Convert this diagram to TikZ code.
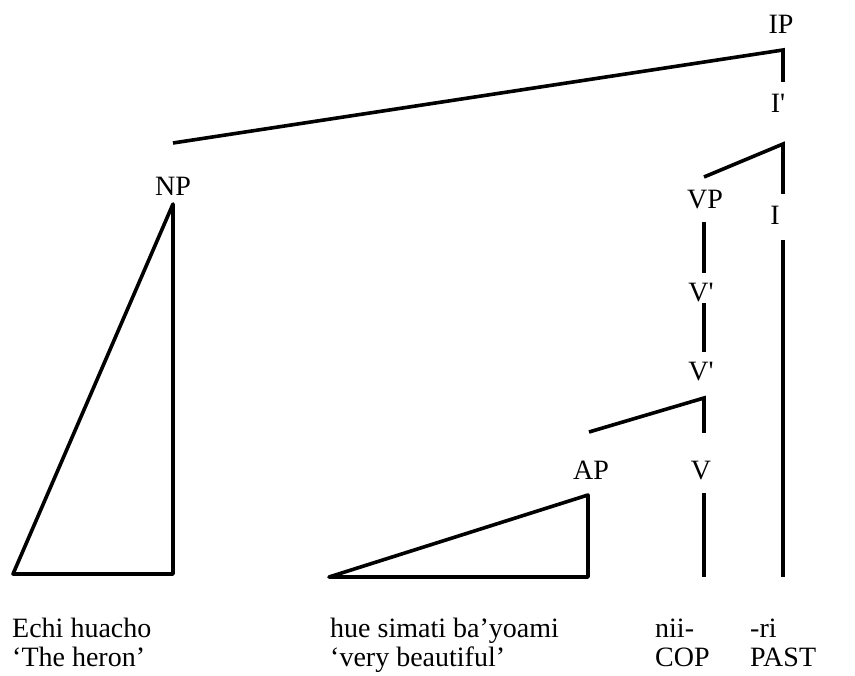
\documentclass[tikz,border=0pt]{standalone}
\usepackage{fontspec}
\setmainfont{Liberation Serif}
\begin{document}
\begin{tikzpicture}[x=1pt,y=-1pt,
  branch/.style={line width=3.6pt, line join=miter, line cap=butt},
  roof/.style={line width=3.6pt, line join=round},
  lbl/.style={font=\fontsize{28}{32}\selectfont, inner sep=0pt, anchor=base},
  gloss/.style={font=\fontsize{28}{32}\selectfont, inner sep=0pt, anchor=base west}]
\useasboundingbox (0,0) rectangle (855,676);

% category labels
\node[lbl] (IP) at (781,34) {IP};
\node[lbl] (Ibar) at (778,113) {I\textquotesingle};
\node[lbl] (NP) at (173,196) {NP};
\node[lbl] (VP) at (705,209) {VP};
\node[lbl] (I) at (775,225) {I};
\node[lbl] (Vbar1) at (701,302) {V\textquotesingle};
\node[lbl] (Vbar2) at (701,381) {V\textquotesingle};
\node[lbl] (AP) at (591,480) {AP};
\node[lbl] (V) at (701,480) {V};

% branch end points
\coordinate (ipL) at (173,143);
\coordinate (ipC) at (783,50);
\coordinate (ipB) at (783,82);
\coordinate (ibL) at (704,177);
\coordinate (ibC) at (783,144);
\coordinate (ibB) at (783,194);
\coordinate (iT) at (783,240);
\coordinate (iB) at (783,577);
\coordinate (vpT) at (704,222);
\coordinate (vpB) at (704,273);
\coordinate (v1T) at (704,303);
\coordinate (v1B) at (704,352);
\coordinate (v2L) at (589,432);
\coordinate (v2C) at (704,398);
\coordinate (v2B) at (704,433);
\coordinate (vT) at (704,493);
\coordinate (vB) at (704,577);
\coordinate (npT) at (173,204);
\coordinate (npR) at (173,574);
\coordinate (npL) at (13,574);
\coordinate (apT) at (588,495);
\coordinate (apR) at (588,577);
\coordinate (apL) at (329,577);

% branches
\draw[branch] (ipL) -- (ipC) -- (ipB);
\draw[branch] (ibL) -- (ibC) -- (ibB);
\draw[branch] (iT) -- (iB);
\draw[branch] (vpT) -- (vpB);
\draw[branch] (v1T) -- (v1B);
\draw[branch] (v2L) -- (v2C) -- (v2B);
\draw[branch] (vT) -- (vB);
\draw[roof] (npT) -- (npR) -- (npL) -- cycle;
\draw[roof] (apT) -- (apR) -- (apL) -- cycle;

% glosses
\node[gloss] (g1a) at (12,637) {Echi huacho};
\node[gloss] (g1b) at (12,666) {`The heron'};
\node[gloss] (g2a) at (330,637) {hue simati ba'yoami};
\node[gloss] (g2b) at (330,666) {`very beautiful'};
\node[gloss] (g3a) at (655,637) {nii-};
\node[gloss] (g3b) at (655,666) {COP};
\node[gloss] (g4a) at (750,637) {-ri};
\node[gloss] (g4b) at (750,666) {PAST};
\end{tikzpicture}
\end{document}
